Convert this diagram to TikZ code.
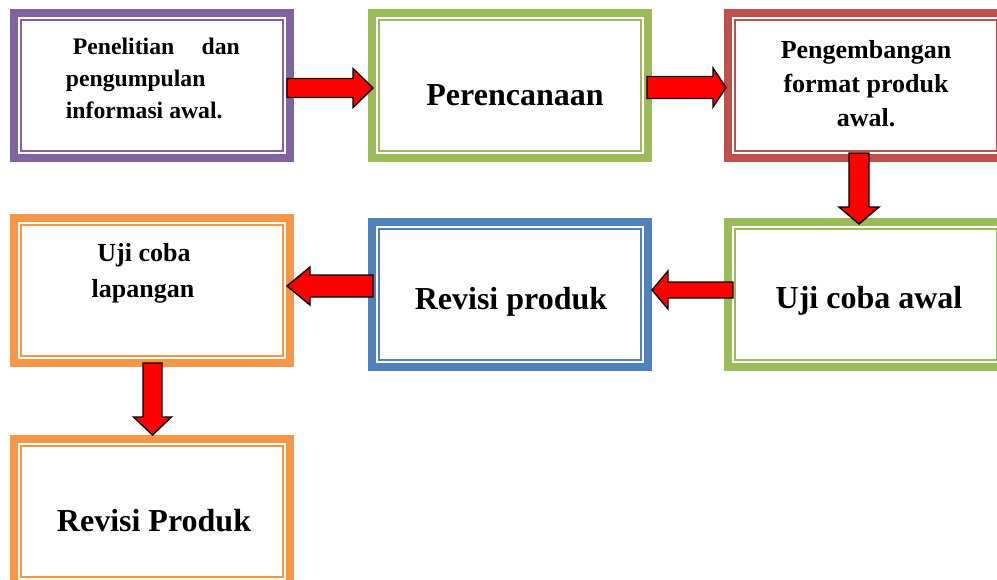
\documentclass[tikz,border=0pt]{standalone}
\usepackage{fontspec}
\setmainfont{Liberation Serif}
\usetikzlibrary{calc}
\definecolor{cpurple}{HTML}{8064A2}
\definecolor{cgreen}{HTML}{9BBB59}
\definecolor{cred}{HTML}{C0504D}
\definecolor{cblue}{HTML}{4F81BD}
\definecolor{corange}{HTML}{F79646}
\tikzset{
  boxst/.style={draw=#1, line width=8pt, rectangle, minimum width=276pt, minimum height=145pt, inner sep=0pt, outer sep=0pt, fill=white},
  innerst/.style={draw=#1, line width=2.2pt},
  arrowst/.style={draw=black, line width=1.4pt, fill=red, line join=miter},
  bigtxt/.style={font=\fontsize{32}{38}\selectfont\bfseries, inner sep=0pt, anchor=base},
  midtxt/.style={font=\fontsize{26}{31}\selectfont\bfseries, inner sep=0pt, anchor=base},
  smalltxt/.style={font=\fontsize{23.7}{28}\selectfont\bfseries, inner sep=0pt, anchor=base west},
}
% horizontal block arrow: #1 tail, #2 tip (only x used), #3 shaft half, #4 head half, #5 head length, #6 direction (1 right, -1 left)
\newcommand{\harrow}[6]{%
 \draw[arrowst] let \p1=(#1), \p2=(#2) in
  (\x1,{\y1+#3pt}) -- ({\x2-(#6)*#5pt},{\y1+#3pt}) -- ({\x2-(#6)*#5pt},{\y1+#4pt}) -- (\x2,\y1)
  -- ({\x2-(#6)*#5pt},{\y1-#4pt}) -- ({\x2-(#6)*#5pt},{\y1-#3pt}) -- (\x1,{\y1-#3pt}) -- cycle;}
% vertical (downward) block arrow: #1 tail, #2 tip (only y used)
\newcommand{\varrow}[5]{%
 \draw[arrowst] let \p1=(#1), \p2=(#2) in
  ({\x1-#3pt},\y1) -- ({\x1-#3pt},{\y2+#5pt}) -- ({\x1-#4pt},{\y2+#5pt}) -- (\x1,\y2)
  -- ({\x1+#4pt},{\y2+#5pt}) -- ({\x1+#3pt},{\y2+#5pt}) -- ({\x1+#3pt},\y1) -- cycle;}
\begin{document}
\begin{tikzpicture}[x=1pt,y=-1pt]
\useasboundingbox (0,0) rectangle (997,579);
\clip (0,0) rectangle (997,579);
\fill[white] (0,0) rectangle (997,579);
% boxes
\node[boxst=cpurple] (b1) at (152,85.5) {};
\node[boxst=cgreen]  (b2) at (510,85.5) {};
\node[boxst=cred]    (b3) at (866,85.5) {};
\node[boxst=cblue]   (b4) at (510,294.5) {};
\node[boxst=cgreen]  (b5) at (866,294.5) {};
\node[boxst=corange] (b6) at (152,290.5) {};
\node[boxst=corange] (b7) at (152,511.5) {};
\foreach \n/\c in {b1/cpurple,b2/cgreen,b3/cred,b4/cblue,b5/cgreen,b6/corange,b7/corange}
  \draw[innerst=\c] ([shift={(7.3pt,-7.3pt)}]\n.north west) rectangle ([shift={(-7.3pt,7.3pt)}]\n.south east);
% texts
\node[smalltxt] (t1a) at (72.7,54) {\makebox[167pt][s]{Penelitian\hfill dan}};
\node[smalltxt] (t1b) at (65.7,86.3) {pengumpulan};
\node[smalltxt] (t1c) at (65.7,118.8) {informasi awal.};
\node[bigtxt] (t2) at (515,105.7) {Perencanaan};
\node[midtxt] (t3a) at (866,58.3) {Pengembangan};
\node[midtxt] (t3b) at (866,92.3) {format produk};
\node[midtxt] (t3c) at (866,126.7) {awal.};
\node[bigtxt] (t4) at (511,309) {Revisi produk};
\node[bigtxt] (t5) at (869,308.3) {Uji coba awal};
\node[midtxt] (t6a) at (144,261.7) {Uji coba};
\node[midtxt] (t6b) at (143,297.7) {lapangan};
\node[bigtxt] (t7) at (154,531.7) {Revisi Produk};
% connectors (block arrows)
\coordinate (a1s) at ([xshift=-3pt,yshift=-2.5pt]b1.east);
\coordinate (a1e) at ([xshift=1pt]b2.west);
\harrow{a1s}{a1e}{9.5}{19.5}{20}{1}
\coordinate (a2s) at ([xshift=-1pt,yshift=-2pt]b2.east);
\coordinate (a2e) at ([xshift=-2pt]b3.west);
\harrow{a2s}{a2e}{11}{19.5}{13}{1}
\coordinate (a3s) at ([xshift=-7pt,yshift=5pt]b3.south);
\coordinate (a3e) at ([yshift=-2pt]b5.north);
\varrow{a3s}{a3e}{10}{20}{17}
\coordinate (a4s) at ([xshift=5pt,yshift=4.5pt]b5.west);
\coordinate (a4e) at ([xshift=4pt]b4.east);
\harrow{a4s}{a4e}{8}{19}{16}{-1}
\coordinate (a5s) at ([xshift=1pt,yshift=8.5pt]b4.west);
\coordinate (a5e) at ([xshift=-3pt]b6.east);
\harrow{a5s}{a5e}{11}{19}{23}{-1}
\coordinate (a6s) at ([xshift=0.5pt]b6.south);
\coordinate (a6e) at ([yshift=4pt]b7.north);
\varrow{a6s}{a6e}{9.5}{19}{18}
\end{tikzpicture}
\end{document}
